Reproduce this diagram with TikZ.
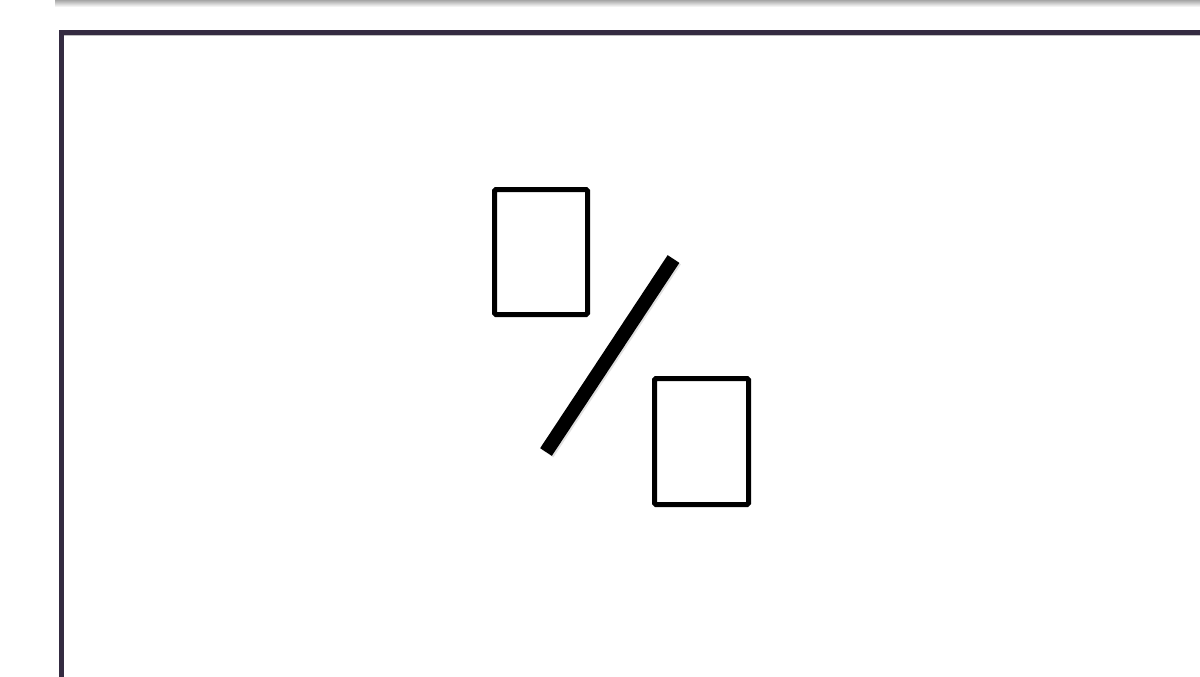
\documentclass[tikz,border=0pt]{standalone}
\definecolor{framec}{HTML}{342B41}
\tikzset{
  box/.style={draw=black, line width=5pt, rounded corners=1.5pt, fill=white, minimum width=93pt, minimum height=125pt, inner sep=0pt},
  slashline/.style={line width=14pt, line cap=butt, draw=black},
  framel/.style={draw=framec, line width=5pt}
}
\begin{document}
\begin{tikzpicture}[x=1pt,y=-1pt]
\useasboundingbox[fill=white] (0,0) rectangle (1200,677);
% top shadow band
\shade[top color=black!35, bottom color=white] (55,0) rectangle (1200,7);
% frame
\draw[black!25, line width=1pt] (64,36) -- (1205,36);
\draw[framel] (61,690) -- (61,32.5) -- (1210,32.5);
% boxes
\node[box] (a) at (541,252) {};
\node[box, minimum width=94pt, minimum height=126pt] (b) at (701.5,441.5) {};
% slash
\coordinate (s1) at (546,452);
\coordinate (s2) at (673.5,259);
\draw[black!12, line width=14pt] ([shift={(1.5,1.5)}]s1) -- ([shift={(1.5,1.5)}]s2);
\draw[slashline] (s1) -- (s2);
\end{tikzpicture}
\end{document}
